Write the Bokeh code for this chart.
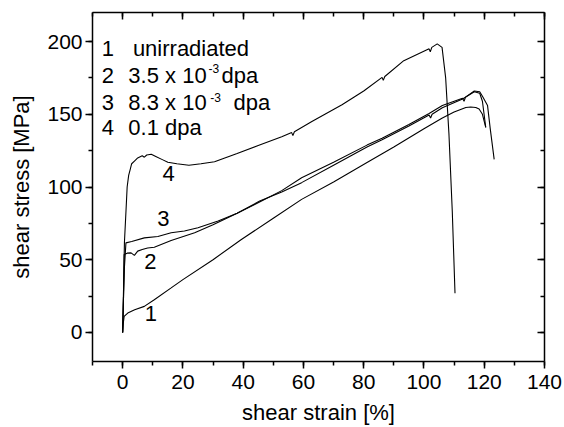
from bokeh.plotting import figure
from bokeh.models import LinearAxis, SingleIntervalTicker, Range1d
from bokeh.core.properties import value
from bokeh.embed import file_html
from bokeh.resources import INLINE

# ---- data ----
x1 = [0, 0.2, 0.5, 1.7, 4, 7.2, 10.5, 16.1, 20, 30, 39.4, 50, 59.4, 70, 81.1, 90, 100, 106.1, 110, 113.9, 115.5, 117.2, 118.3, 119.4, 120.5]
y1 = [0, 6, 11, 13.3, 15.6, 17.9, 22.5, 30.6, 36.3, 50, 63.9, 78.5, 91.5, 103.5, 116.8, 127.5, 140, 147.4, 151.5, 154.7, 155, 154.7, 153.6, 150, 141]

x2 = [0, 0.3, 0.5, 1.5, 2.8, 3.9, 5, 6.5, 8.3, 10.5, 16.1, 23.9, 30, 38, 45.5, 52.8, 59.4, 70, 81.1, 86.1, 95, 101.7, 102.2, 102.7, 106.1, 112.8, 116.7, 118.5, 119.4, 120.5]
y2 = [0, 25, 53.6, 54.5, 54.7, 53, 55.9, 57, 58.1, 58.6, 63.2, 68.5, 74, 82, 90.3, 96.5, 103, 115, 127.5, 132.5, 142, 149.5, 147.5, 150, 154.5, 160.5, 165.5, 164.5, 159, 141]

x3 = [0, 0.3, 0.6, 1.1, 3, 7.2, 11.7, 16.1, 20.5, 25, 31.7, 38, 46.1, 52.8, 59.4, 70, 81.1, 86.1, 95, 101.7, 106.1, 112.8, 113.3, 113.8, 116.7, 118.5, 119.5, 121.1, 122, 123.3]
y3 = [0, 25, 45, 61.6, 62.5, 65, 66, 68.5, 69.7, 72, 76.6, 82, 90.3, 97.5, 106.4, 117, 128.8, 133.5, 143, 150.5, 156, 161, 159, 161.8, 166, 165.5, 162, 156, 140, 119]

x4 = [0, 0.3, 0.6, 1.1, 1.5, 2.0, 2.5, 3.0, 4.0, 5.0, 6.5, 7.2, 8.0, 9.5, 11, 13, 15, 18, 22, 26, 30.5, 38, 45, 52.8, 56.1, 56.5, 57.0, 62.8, 72.8, 80, 86.1, 86.5, 87.0, 93.3, 101.7, 102.1, 102.6, 104.4, 106, 107.2, 108.3, 109.4, 110.3]
y4 = [0, 30, 62, 83, 100, 108, 112, 116, 118, 120, 121.5, 120.5, 122, 122.5, 121, 119, 117, 116, 115, 116, 117.4, 123, 128.5, 134.5, 137.4, 135.3, 138, 145, 156.6, 166, 175.4, 173.3, 176, 186.9, 195, 193, 196, 198.4, 196, 175, 136, 83, 27]

curve_ids = ["1", "2", "3", "4"]
curve_label_x = [9.4, 9.2, 13.5, 15.3]
curve_label_y = [12.8, 49, 78.3, 109.3]

legend_nums = ["1", "2", "3", "4"]
legend_texts = ["unirradiated", "3.5 x 10", "8.3 x 10", "0.1 dpa"]
legend_y = [195, 176.6, 158.1, 140.9]
legend_text_x = [3.4, 1.9, 1.9, 1.9]
sup_text = ["-3", "-3"]
sup_x = [28.5, 29.1]
sup_y = [181.2, 161.6]
dpa_x = [32.8, 36.8]
dpa_y = [176.6, 158.1]

FONT = "Liberation Sans"

p = figure(width=564, height=427, x_range=Range1d(-10, 140), y_range=Range1d(-20, 220),
           output_backend="svg", toolbar_location=None,
           min_border_left=92, min_border_right=20, min_border_top=12, min_border_bottom=66)
p.outline_line_color = None
p.grid.visible = False
p.background_fill_color = "white"
p.border_fill_color = "white"

for xs, ys in [(x1, y1), (x2, y2), (x3, y3), (x4, y4)]:
    p.line(xs, ys, line_color="black", line_width=1.1)

p.text(curve_label_x, curve_label_y, text=curve_ids, text_font=value(FONT), text_font_size="22px",
       text_align="center", text_baseline="middle", text_color="black")

p.text([-6.9] * 4, legend_y, text=legend_nums, text_font=value(FONT), text_font_size="22px",
       text_align="left", text_baseline="alphabetic", text_color="black")
p.text(legend_text_x, legend_y, text=legend_texts, text_font=value(FONT), text_font_size="22px",
       text_align="left", text_baseline="alphabetic", text_color="black")
p.text(sup_x, sup_y, text=sup_text, text_font=value(FONT), text_font_size="12px",
       text_align="left", text_baseline="alphabetic", text_color="black")
p.text(dpa_x, dpa_y, text=["dpa", "dpa"], text_font=value(FONT), text_font_size="22px",
       text_align="left", text_baseline="alphabetic", text_color="black")

xt = SingleIntervalTicker(interval=20, num_minor_ticks=2)
yt = SingleIntervalTicker(interval=50, num_minor_ticks=2)

def style_main(ax):
    ax.axis_line_width = 1.5
    ax.major_tick_line_width = 1.5
    ax.minor_tick_line_width = 1.5
    ax.major_tick_out = 7
    ax.major_tick_in = 0
    ax.minor_tick_out = 4
    ax.minor_tick_in = 0
    ax.major_label_text_font = FONT
    ax.major_label_text_font_size = "21px"
    ax.major_label_text_color = "black"
    ax.axis_label_text_font = FONT
    ax.axis_label_text_font_size = "22px"
    ax.axis_label_text_font_style = "normal"
    ax.axis_label_text_color = "black"

xa = p.xaxis[0]
xa.ticker = xt
style_main(xa)
xa.axis_label = "shear strain [%]"
xa.major_label_standoff = 6
xa.axis_label_standoff = 8

ya = p.yaxis[0]
ya.ticker = yt
style_main(ya)
ya.axis_label = "shear stress [MPa]"
ya.major_label_standoff = 3
ya.axis_label_standoff = 10

def mirror(ticker):
    ax = LinearAxis(ticker=ticker)
    ax.axis_line_width = 1.5
    ax.major_tick_line_width = 1.5
    ax.minor_tick_line_width = 1.5
    ax.major_tick_in = 7
    ax.major_tick_out = 0
    ax.minor_tick_in = 4
    ax.minor_tick_out = 0
    ax.major_label_text_font_size = "1px"
    ax.major_label_text_line_height = 0.5
    ax.major_label_standoff = 0
    ax.major_label_text_alpha = 0
    return ax

p.add_layout(mirror(SingleIntervalTicker(interval=20, num_minor_ticks=2)), "above")
p.add_layout(mirror(SingleIntervalTicker(interval=50, num_minor_ticks=2)), "right")

open("out.html", "w").write(file_html(p, INLINE))
